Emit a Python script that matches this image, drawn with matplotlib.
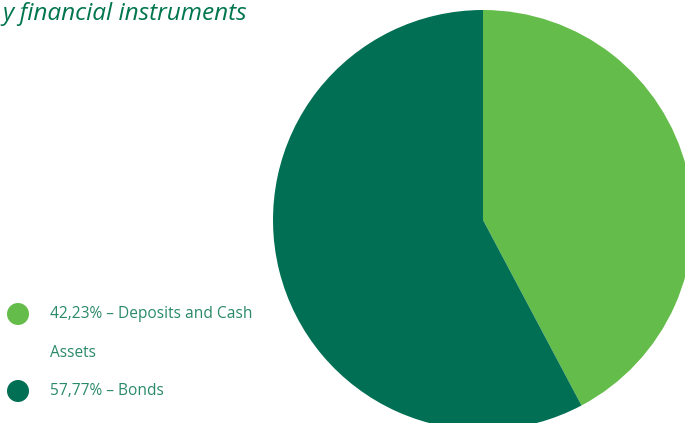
import matplotlib.pyplot as plt
from matplotlib.patches import Circle

W, H = 685, 423
DPI = 100

shares = [42.23, 57.77]
labels = [["42,23% – Deposits and Cash", "Assets"], ["57,77% – Bonds"]]
colors = ["#64bc4a", "#006f53"]
title = "y financial instruments"

plt.rcParams['font.family'] = ['Open Sans', 'DejaVu Sans']

fig = plt.figure(figsize=(W / DPI, H / DPI), dpi=DPI)

# pie in its own square axes, placed in pixel terms
cx, cy, r = 483, 220, 210
ax = fig.add_axes([(cx - r) / W, 1 - (cy + r) / H, 2 * r / W, 2 * r / H])
ax.pie(shares, colors=colors, startangle=90, counterclock=False,
       wedgeprops=dict(linewidth=0))
ax.set_xlim(-1, 1)
ax.set_ylim(-1, 1)
ax.axis('off')

# overlay in pixel coordinates for title and legend
lax = fig.add_axes([0, 0, 1, 1], zorder=-1)
lax.set_xlim(0, W)
lax.set_ylim(H, 0)
lax.axis('off')

lax.text(2, 20, title, ha='left', va='baseline', fontsize=17.6,
         style='italic', fontweight='medium', color='#00754f')

rows = [314, 391]
step = 39
for y, col, lines in zip(rows, colors, labels):
    lax.add_patch(Circle((18, y), 11, color=col, lw=0))
    for i, line in enumerate(lines):
        lax.text(50, y + i * step, line, ha='left', va='center',
                 fontsize=11.2, color='#2a8a68')

fig.savefig('out.png', dpi=DPI)
